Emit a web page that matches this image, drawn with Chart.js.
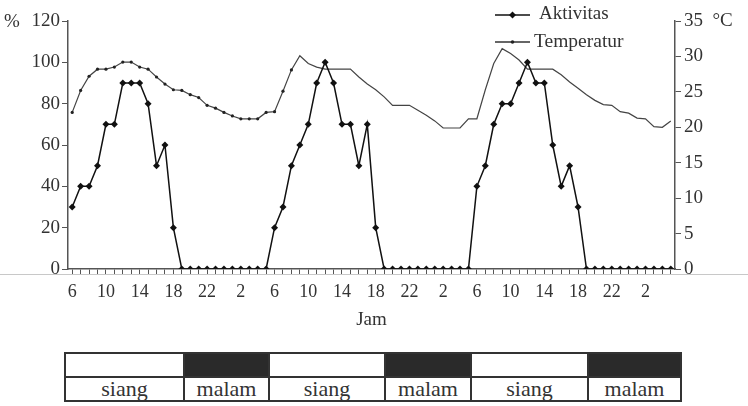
<!DOCTYPE html>
<html>
<head>
<meta charset="utf-8">
<script src="https://cdn.jsdelivr.net/npm/chart.js@4.4.1/dist/chart.umd.min.js"></script>
<style>
  body { margin: 0; background: #fff; }
  #wrap { position: relative; width: 748px; height: 406px; }
  #grafik { position: absolute; left: 0; top: 0; }
  #periode {
    position: absolute; left: 64px; top: 352px;
    border-collapse: collapse; table-layout: fixed;
    font-family: 'Liberation Serif', serif; font-size: 22px; color: #333;
  }
  #periode td { border: 2px solid #333; padding: 0; text-align: center; }
  #periode tr.warna td { height: 22px; }
  #periode tr.teks td { height: 22px; line-height: 22px; }
  #periode td.gelap { background: #2a2a2a; }
</style>
</head>
<body>
<div id="wrap">
  <canvas id="grafik" width="748" height="340"></canvas>
  <table id="periode">
    <colgroup>
      <col style="width:119px"><col style="width:85px"><col style="width:116px">
      <col style="width:86px"><col style="width:117px"><col style="width:93px">
    </colgroup>
    <tr class="warna"><td></td><td class="gelap"></td><td></td><td class="gelap"></td><td></td><td class="gelap"></td></tr>
    <tr class="teks"><td>siang</td><td>malam</td><td>siang</td><td>malam</td><td>siang</td><td>malam</td></tr>
  </table>
</div>
<script>
// jam pengamatan (3 hari, mulai jam 6)
const jamHari = [6,7,8,9,10,11,12,13,14,15,16,17,18,19,20,21,22,23,0,1,2,3,4,5];
const jam = [...jamHari, ...jamHari, ...jamHari];

// aktivitas (%)
const aktivitas = [
  30,40,40,50,70,70,90,90,90,80,50,60,20, 0,0,0,0,0,0,0,0,0,0,0,
  20,30,50,60,70,90,100,90,70,70,50,70,20, 0,0,0,0,0,0,0,0,0,0,0,
  40,50,70,80,80,90,100,90,90,60,40,50,30, 0,0,0,0,0,0,0,0,0,0,0
];

// temperatur (°C)
const temperatur = [
  22.1,25.2,27.2,28.2,28.2,28.5,29.2,29.2,28.5,28.2,27.1,26.1,25.3,25.2,24.6,24.2,23.1,22.7,22.1,21.6,21.2,21.2,21.2,22.1,
  22.2,25.1,28.1,30.1,29.0,28.5,28.2,28.2,28.2,28.2,27.1,26.1,25.3,24.3,23.1,23.1,23.1,22.4,21.7,20.9,19.9,19.9,19.9,21.2,
  21.2,25.3,29.0,31.1,30.4,29.5,28.2,28.2,28.2,28.2,27.4,26.4,25.5,24.6,23.8,23.2,23.1,22.2,22.0,21.3,21.2,20.1,20.0,20.9
];

const ctx = document.getElementById('grafik');
Chart.defaults.font.family = "'Liberation Serif', serif";
Chart.defaults.font.size = 19;
Chart.defaults.color = '#333';

// teks tambahan: %, legenda, garis bawah
const hiasan = {
  id: 'hiasan',
  afterDraw(chart) {
    const c = chart.ctx;
    c.save();
    c.strokeStyle = '#c8c8c8';
    c.lineWidth = 1;
    c.beginPath(); c.moveTo(0, 274.5); c.lineTo(748, 274.5); c.stroke();

    c.fillStyle = '#333';
    c.font = "19px 'Liberation Serif'";
    c.textBaseline = 'middle';
    c.fillText('%', 4, 22);

    // legenda Aktivitas
    c.strokeStyle = '#111'; c.lineWidth = 1.5;
    c.beginPath(); c.moveTo(495, 15); c.lineTo(530, 15); c.stroke();
    c.fillStyle = '#111';
    c.beginPath(); c.moveTo(512.5, 11.5); c.lineTo(516, 15); c.lineTo(512.5, 18.5); c.lineTo(509, 15); c.closePath(); c.fill();
    c.fillStyle = '#333';
    c.font = "19px 'Liberation Serif'";
    c.fillText('Aktivitas', 539, 14);

    // legenda Temperatur
    c.strokeStyle = '#333'; c.lineWidth = 1.3;
    c.beginPath(); c.moveTo(495, 42); c.lineTo(530, 42); c.stroke();
    c.fillStyle = '#222';
    c.beginPath(); c.arc(512.5, 42, 1.8, 0, Math.PI * 2); c.fill();
    c.fillStyle = '#333';
    c.font = "19.5px 'Liberation Serif'";
    c.fillText('Temperatur', 534, 42);
    c.restore();
  }
};

new Chart(ctx, {
  type: 'line',
  data: {
    labels: jam,
    datasets: [
      {
        label: 'Aktivitas',
        data: aktivitas,
        yAxisID: 'y',
        borderColor: '#111',
        borderWidth: 1.5,
        backgroundColor: '#111',
        pointStyle: 'rectRot',
        pointRadius: 3.5,
        pointBorderWidth: 0,
        tension: 0
      },
      {
        label: 'Temperatur',
        data: temperatur,
        yAxisID: 'yT',
        borderColor: '#444',
        borderWidth: 1.2,
        backgroundColor: '#222',
        pointRadius: c => (c.dataIndex <= 26 ? 1.6 : 0),
        pointBorderWidth: 0,
        tension: 0
      }
    ]
  },
  options: {
    responsive: false,
    animation: false,
    layout: { padding: { top: 21, left: 0, right: 0, bottom: 0 } },
    plugins: {
      legend: { display: false },
      tooltip: { enabled: false }
    },
    scales: {
      x: {
        offset: true,
        grid: { drawOnChartArea: false, drawTicks: true, tickLength: 5, color: '#555' },
        border: { color: '#555', width: 1.5 },
        ticks: {
          autoSkip: false,
          maxRotation: 0,
          padding: 7,
          font: { size: 18 },
          callback: (v, i) => (i % 4 === 0 ? String(jam[i]) : '')
        },
        title: { display: true, text: 'Jam', padding: { top: 8, bottom: 9 }, font: { size: 19 } },
        afterFit: s => { s.height = 71; }
      },
      y: {
        position: 'left',
        min: 0, max: 120,
        grid: { drawOnChartArea: false, tickLength: 6, color: '#555' },
        border: { color: '#555', width: 1.5 },
        ticks: { stepSize: 20, padding: 2 },
        afterFit: s => { s.width = 68; }
      },
      yT: {
        position: 'right',
        min: 0, max: 35,
        grid: { drawOnChartArea: false, tickLength: 6, color: '#555' },
        border: { color: '#555', width: 1.5 },
        ticks: {
          stepSize: 5, padding: 3,
          callback: v => (v === 35 ? '35  °C' : String(v))
        },
        afterFit: s => { s.width = 73; }
      }
    }
  },
  plugins: [hiasan]
});
</script>
</body>
</html>
